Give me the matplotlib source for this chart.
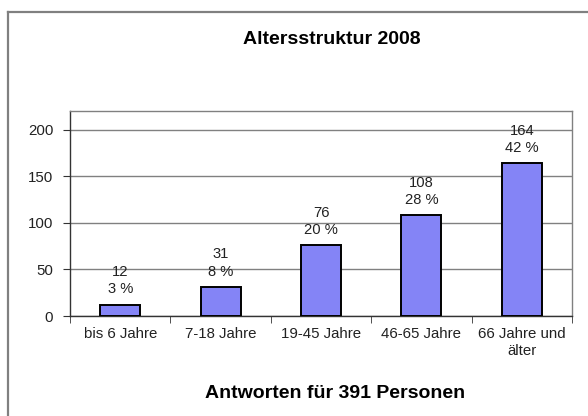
import numpy as np
import matplotlib.pyplot as plt
from matplotlib.lines import Line2D

categories = ["bis 6 Jahre", "7-18 Jahre", "19-45 Jahre", "46-65 Jahre", "66 Jahre und\nälter"]
counts = [12, 31, 76, 108, 164]
percents = ["3 %", "8 %", "20 %", "28 %", "42 %"]

plt.rcParams['font.family'] = ['Liberation Sans', 'DejaVu Sans']

W, H = 588, 416
fig = plt.figure(figsize=(W / 100, H / 100), dpi=100)
ax = fig.add_axes([70 / W, 1 - 316 / H, (572 - 70) / W, (316 - 111) / H])

x = np.arange(len(categories))
ax.bar(x, counts, width=0.4, color='#8484F6', edgecolor='black', linewidth=1.4, zorder=3)

for xi, c, p in zip(x, counts, percents):
    ax.annotate(f"{c}\n{p}", (xi, c), xytext=(0, 6), textcoords='offset points',
                ha='center', va='bottom', fontsize=10.6, linespacing=1.3,
                color='#222222')

ax.set_xlim(-0.5, len(categories) - 0.5)
ax.set_ylim(0, 220)
ax.set_yticks([0, 50, 100, 150, 200])
ax.yaxis.grid(True, color='#808080', linewidth=1.0, zorder=0)
ax.set_xticks(x)
ax.set_xticklabels(categories, fontsize=10.8, linespacing=1.3, color='#222222')
ax.set_xticks(np.arange(-0.5, len(categories)), minor=True)
ax.tick_params(axis='x', which='major', length=0, pad=8)
ax.tick_params(axis='x', which='minor', length=5, color='#333333', direction='out')
ax.tick_params(axis='y', length=5, color='#333333', pad=7, labelsize=10.8, labelcolor='#222222')

for s in ['top', 'right']:
    ax.spines[s].set_color('#808080')
    ax.spines[s].set_linewidth(1.0)
for s in ['left', 'bottom']:
    ax.spines[s].set_color('#333333')
    ax.spines[s].set_linewidth(1.0)

# outer chart frame (only left and top edges are inside the picture)
fig.add_artist(Line2D([7.5 / W, 7.5 / W], [0, 1 - 12 / H], color='#808080', linewidth=1.6))
fig.add_artist(Line2D([7.5 / W, 1], [1 - 12 / H, 1 - 12 / H], color='#808080', linewidth=1.6))

fig.text(332 / W, 1 - 40 / H, "Altersstruktur 2008", ha='center', va='center',
         fontsize=14, fontweight='bold')
fig.text(335 / W, 1 - 393 / H, "Antworten für 391 Personen", ha='center', va='center',
         fontsize=14, fontweight='bold')

fig.savefig('out.png', dpi=100)
